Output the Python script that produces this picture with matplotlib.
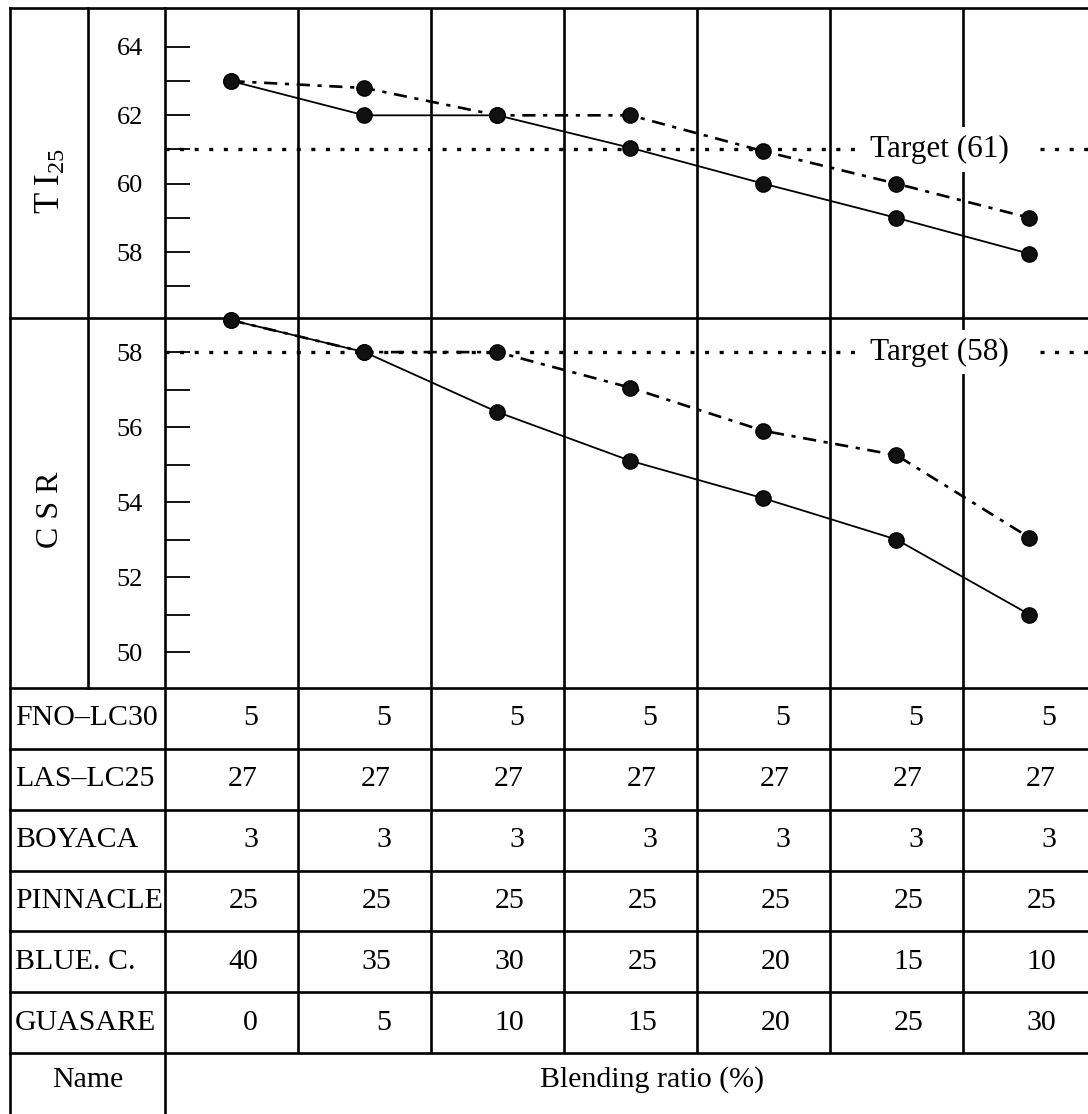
import numpy as np
import matplotlib
matplotlib.use('Agg')
import matplotlib.pyplot as plt
import matplotlib.transforms as mtransforms

plt.rcParams['font.family'] = ['Liberation Serif', 'DejaVu Serif']
plt.rcParams['mathtext.fontset'] = 'custom'
plt.rcParams['mathtext.rm'] = 'Liberation Serif'
plt.rcParams['mathtext.it'] = 'Liberation Serif:italic'
plt.rcParams['lines.scale_dashes'] = False

# ---------------- data ----------------
blend_idx = [0, 1, 2, 3, 4, 5, 6]
ti_solid = [63.0, 62.0, 62.0, 61.05, 60.0, 59.0, 57.95]
ti_dashdot = [63.0, 62.8, 62.0, 62.0, 60.95, 60.0, 59.0]
csr_solid = [58.85, 58.0, 56.4, 55.1, 54.1, 53.0, 51.0]
csr_dashdot = [58.85, 58.0, 58.0, 57.05, 55.9, 55.25, 53.05]
ti_target = 61
csr_target = 58
ti_ticks = [58, 60, 62, 64]
ti_minor = [57, 59, 61, 63]
csr_ticks = [50, 52, 54, 56, 58]
csr_minor = [51, 53, 55, 57]

coal_names = ['FNO\u2013LC30', 'LAS\u2013LC25', 'BOYACA', 'PINNACLE', 'BLUE. C.', 'GUASARE']
fno_lc30 = [5, 5, 5, 5, 5, 5, 5]
las_lc25 = [27, 27, 27, 27, 27, 27, 27]
boyaca = [3, 3, 3, 3, 3, 3, 3]
pinnacle = [25, 25, 25, 25, 25, 25, 25]
blue_c = [40, 35, 30, 25, 20, 15, 10]
guasare = [0, 5, 10, 15, 20, 25, 30]
table_rows = [fno_lc30, las_lc25, boyaca, pinnacle, blue_c, guasare]

# ---------------- layout (pixels) ----------------
W, H = 1088, 1114
x_frame, x_lab, x_plot = 10, 88, 165
y_top, y_mid, y_pbot = 8, 318, 688
row_lines = np.linspace(688, 1053, 7)
LW = 1.9
FS = 21.5

fig = plt.figure(figsize=(W / 100, H / 100), dpi=100)

def frac(l, t, r, b):
    return [l / W, 1 - b / H, (r - l) / W, (b - t) / H]

bg = fig.add_axes([0, 0, 1, 1], zorder=-1)
bg.set_xlim(0, W)
bg.set_ylim(H, 0)
bg.axis('off')

ax_ti = fig.add_axes(frac(x_plot, y_top, W, y_mid))
ax_csr = fig.add_axes(frac(x_plot, y_mid, W, y_pbot))

for ax in (ax_ti, ax_csr):
    ax.set_facecolor('none')
    for s in ax.spines.values():
        s.set_visible(False)
    ax.set_xlim(-0.5, 6.44)
    ax.set_xticks([])
    ax.tick_params(axis='y', which='both', direction='in', length=18,
                   width=1.3, pad=16, labelsize=19)

ax_ti.set_ylim(56.07, 65.14)
ax_ti.set_yticks(ti_ticks)
ax_ti.set_yticks(ti_minor, minor=True)
ax_csr.set_ylim(49.04, 58.91)
ax_csr.set_yticks(csr_ticks)
ax_csr.set_yticks(csr_minor, minor=True)

dot_style = (0, (2.9, 7.6))
dashdot_style = (0, (9.5, 5.5, 3.0, 5.5))
mk = dict(marker='o', markersize=11, markerfacecolor='#111111',
          markeredgecolor='black', color='black', clip_on=False)

for ax, sol, dd, tgt in ((ax_ti, ti_solid, ti_dashdot, ti_target),
                         (ax_csr, csr_solid, csr_dashdot, csr_target)):
    ax.axhline(tgt, color='black', lw=2.4, ls=dot_style, zorder=2)
    ax.plot(blend_idx, sol, lw=1.3, ls='-', zorder=4, **mk)
    ax.plot(blend_idx, dd, lw=1.9, ls=dashdot_style, zorder=4, **mk)
    ax.text(4.80, tgt, 'Target (%d)   ' % tgt, ha='left', va='center',
            fontsize=22.5, zorder=3,
            bbox=dict(boxstyle='square,pad=0.25', facecolor='white',
                      edgecolor='none'))

# ---------------- grid / frame ----------------
colx = mtransforms.blended_transform_factory(ax_ti.transData, bg.transData)
for i in range(6):
    bg.plot([i + 0.5, i + 0.5], [y_top, row_lines[-1]], color='black',
            lw=LW, transform=colx, solid_capstyle='butt')
bg.plot([x_frame, x_frame], [y_top, H], color='black', lw=LW)
bg.plot([x_plot, x_plot], [y_top, H], color='black', lw=LW)
bg.plot([x_lab, x_lab], [y_top, y_pbot], color='black', lw=LW)
for y in [y_top, y_mid] + list(row_lines):
    bg.plot([x_frame, W], [y, y], color='black', lw=LW)

# ---------------- texts ----------------
bg.text((x_frame + x_lab) / 2 + 2, (y_top + y_mid) / 2 + 18,
        r'$\mathrm{T\;I}_{25}$', rotation=90, ha='center', va='center',
        fontsize=25)
bg.text((x_frame + x_lab) / 2 + 2, (y_mid + y_pbot) / 2 + 7, 'C S R',
        rotation=90, ha='center', va='center', fontsize=23)

for r, (name, vals) in enumerate(zip(coal_names, table_rows)):
    yc = (row_lines[r] + row_lines[r + 1]) / 2
    bg.text(x_frame + 5, yc, name, ha='left', va='center', fontsize=FS)
    for i, v in enumerate(vals):
        bg.text(i + 0.2, yc, str(v), ha='right', va='center',
                fontsize=FS, transform=colx)

bg.text((x_frame + x_plot) / 2, 1080, 'Name', ha='center', va='center',
        fontsize=FS)
bg.text(652, 1080, 'Blending ratio (%)', ha='center', va='center',
        fontsize=FS)

fig.savefig('out.png', dpi=100)
